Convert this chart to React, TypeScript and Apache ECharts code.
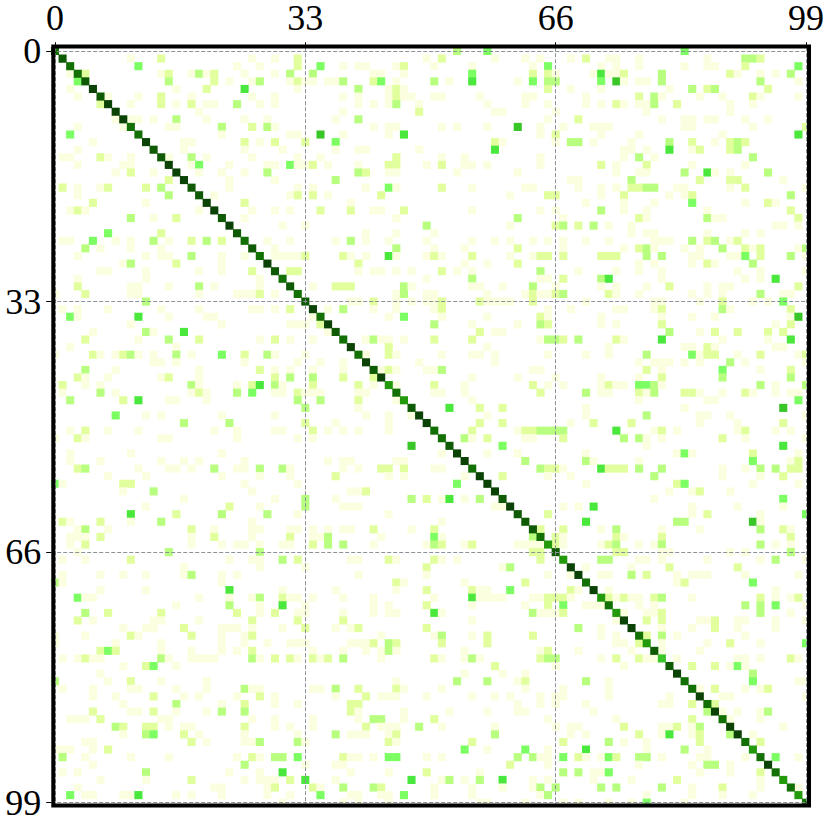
import React, { useEffect, useRef } from "react";
import * as echarts from "echarts";

const axisIndex = Array.from({ length: 100 }, (_, i) => String(i));
const labelledTicks = [0, 33, 66, 99];

const diagonal = [8,9,8,8,9,10,9,10,10,10,8,8,10,9,9,10,10,10,9,9,10,10,9,10,9,8,9,8,10,9,8,9,8,9,10,8,10,9,8,10,8,10,9,10,7,8,7,9,10,10,8,8,9,10,10,8,10,10,10,9,10,9,9,9,8,7,9,7,10,10,8,10,7,8,7,10,10,8,7,9,6,9,10,8,8,10,8,10,8,10,10,8,7,8,10,8,7,8,7,8];

// [row, [col, level, col, level, ...]]
type Row = [number, number[]];
const rowsTop: Row[] = [
  [0, [53,3,57,4,83,4]],
  [1, [10,1,14,2,26,1,29,1,32,2,49,1,51,2,58,1,62,1,64,1,68,1,70,2,73,1,74,1,77,1,86,1,91,3,92,3,93,2]],
  [2, [11,4,24,1,27,1,32,2,35,4,38,1,40,1,41,1,45,1,46,2,50,1,55,1,63,1,65,4,72,1,74,1,77,1,83,1,86,1,87,1,91,2,98,4]],
  [3, [2,1,4,2,14,1,15,2,18,1,19,3,20,1,21,2,25,1,29,1,31,3,34,3,42,1,43,1,46,1,55,4,63,2,65,2,66,1,71,1,72,5,73,1,74,1,75,2,80,3,89,2,90,1,93,1,95,1,97,3]],
  [4, [3,4,15,3,21,2,23,1,26,1,27,3,31,1,32,2,33,1,34,1,36,1,37,1,38,3,42,2,43,4,45,1,50,3,52,1,55,5,61,1,63,4,65,3,66,3,72,4,74,6,75,1,77,1,78,1,80,3,93,3,98,1]],
  [5, [2,1,16,1,20,2,25,5,32,1,40,3,44,1,45,2,46,1,65,2,68,1,72,1,81,1,84,3,86,2,87,3,94,2]],
  [6, [3,1,7,1,11,1,14,2,18,1,26,1,29,1,38,1,40,1,44,1,45,2,46,1,47,1,50,1,51,1,56,1,62,1,63,1,70,1,77,2,79,3,80,1,85,1,88,1,92,2,93,1,98,1]],
  [7, [6,2,10,1,14,2,16,1,18,2,20,1,21,1,24,3,27,1,29,1,40,1,42,1,44,1,45,3,48,1,57,1,62,1,65,1,70,1,72,1,74,2,75,1,77,1,78,1,79,3,82,2,89,1,92,1]],
  [8, [19,1,38,1,48,2,58,1,59,1,66,1,78,1,89,1]],
  [9, [8,1,10,1,11,1,13,1,16,3,20,1,25,1,28,1,37,1,40,3,65,1,69,2,80,1,83,1,84,1,86,1,87,1,91,1,94,1]],
  [10, [3,1,9,1,15,1,16,1,22,3,26,2,28,3,29,1,42,1,44,1,45,1,51,1,53,1,57,1,61,6,64,1,67,1,71,1,72,1,73,1,83,1,84,1,92,1,99,2]],
  [11, [2,4,22,1,31,1,32,1,35,6,38,1,44,1,46,5,64,1,66,2,72,1,77,1,88,1,98,5]],
  [12, [5,1,17,1,18,1,25,2,27,1,29,2,33,2,37,4,58,2,59,1,66,1,68,3,69,3,71,1,76,1,81,3,84,2,87,1,89,2,90,3,91,2]],
  [13, [3,1,17,1,25,1,30,1,37,1,40,1,41,1,48,1,58,5,75,1,76,1,78,1,81,5,84,1,85,2,89,2,90,3]],
  [14, [1,1,2,1,6,2,7,1,10,1,15,1,18,3,20,1,26,1,32,1,35,1,45,2,51,1,54,1,64,1,75,1,77,3,79,1,92,3]],
  [15, [3,1,9,1,10,1,18,1,19,4,23,1,28,1,29,1,31,4,32,1,33,1,34,2,36,1,40,1,44,2,45,2,49,1,51,2,54,1,55,1,57,1,64,1,72,2,74,1,78,2,84,1,91,1]],
  [16, [8,1,10,2,13,1,19,1,22,1,25,1,28,3,40,3,41,2,44,1,45,1,53,1,61,1,74,1,77,1,78,1,83,3,86,5,87,1,89,1,94,3]],
  [17, [15,2,23,1,29,1,37,3,68,1,69,1,76,3,85,2,89,2,90,2,96,1]],
  [18, [1,2,3,1,6,1,7,2,12,2,14,3,23,1,32,1,34,1,41,1,44,4,45,1,51,2,55,1,62,1,63,1,69,1,72,1,74,1,76,2,77,2,78,3,79,3,82,1,83,1,89,1,91,2,99,1]],
  [19, [3,1,15,3,21,1,31,1,32,2,34,2,36,1,43,2,60,1,65,2,66,2,72,1,75,2,81,1,83,1,84,2,97,3]],
  [20, [5,2,12,1,25,2,39,1,70,1,75,1,79,1,84,4,91,1,94,2,95,1]],
  [21, [2,1,3,2,4,1,19,1,26,1,29,1,31,1,35,2,39,2,42,1,43,1,46,2,55,1,64,1,66,1,72,3,75,1,78,1,86,1,97,2]],
  [22, [10,3,13,1,16,2,25,1,45,1,61,3,67,1,77,2,78,1,86,3,87,1,88,1,98,2]],
  [23, [30,1,33,1,49,3,60,1,66,2,67,3,69,2,71,3,73,1,76,1,95,1,96,1,98,1]],
  [24, [7,4,14,2,41,1,45,1,50,1,76,1,78,1,79,1,86,1,91,1,93,1]],
  [25, [1,1,2,1,5,4,8,1,10,1,13,3,15,1,18,2,20,3,22,2,28,1,31,1,37,1,39,3,41,1,44,1,49,1,55,1,58,1,60,1,63,1,65,1,67,1,70,1,73,1,79,1,80,1,81,1,84,3,86,2,87,3,89,1,90,2]],
  [26, [4,3,6,1,10,1,14,1,29,1,45,3,50,1,54,1,61,2,67,1,75,1,77,2,78,3,79,1,83,1,85,1,88,3,91,2,92,1,93,2,98,1,99,3]],
  [27, [3,1,12,1,14,1,15,1,18,3,22,1,25,1,29,1,30,1,31,1,32,1,33,2,38,2,39,1,41,1,44,5,45,1,49,1,50,2,51,1,55,2,60,1,63,1,64,2,65,2,67,2,72,2,73,2,74,2,78,3,80,3,84,1,85,1,89,1,90,1,91,4,93,2,97,3,99,1]],
  [28, [9,1,10,3,16,2,22,1,40,2,54,1,57,1,61,2,77,1,79,1,84,1,86,2,87,1,92,3]],
  [29, [6,1,7,1,12,1,19,1,22,1,26,2,31,2,32,2,40,1,42,1,43,1,45,1,47,1,51,2,53,1,55,1,64,3,69,1,74,1,77,1,80,1,90,1,93,1,99,1]],
  [30, [3,1,12,1,27,1,49,1,55,3,64,1,65,1,67,2,72,3,73,5,80,1,91,1,93,1,95,5]],
  [31, [3,2,10,1,11,1,15,1,19,3,21,1,27,1,34,1,37,2,38,2,39,2,46,3,47,1,55,1,56,1,59,1,63,3,66,1,72,1,74,1,78,1,81,2,86,1,88,1,89,1,98,2]],
  [32, [0,1,4,2,10,1,11,1,19,1,24,1,25,1,26,1,27,2,29,1,45,1,46,3,49,1,50,1,57,1,62,1,63,2,64,1,65,1,66,2,67,3,73,2,74,1,77,1,84,1,86,1,88,1,93,3,96,1,97,1]],
];

const rowsMiddle: Row[] = [
  [33, [12,3,39,1,40,1,42,2,45,1,47,1,49,1,50,1,51,2,56,2,57,1,58,1,59,1,60,1,63,2,70,1,79,1,80,1,85,1,88,2,92,1,94,1,96,4]],
  [34, [1,1,3,1,7,1,14,1,19,1,26,1,27,1,29,1,31,2,36,1,38,3,42,1,45,1,50,1,51,2,65,1,68,1,74,1,75,1,79,1,80,2,88,3,89,1,97,2]],
  [35, [2,4,3,1,11,5,15,1,20,1,21,1,34,1,44,1,46,4,51,1,57,1,64,2,65,1,72,1,80,1,84,1,87,1,97,1,98,6]],
  [36, [10,1,22,1,31,1,32,1,33,1,35,2,50,3,55,1,61,1,64,3,65,2,72,1,74,1,80,2,95,1,97,2]],
  [37, [5,1,12,3,13,1,17,5,36,1,56,2,58,1,59,1,81,3,85,1,87,2,90,2,94,2,96,2]],
  [38, [4,2,11,1,15,3,19,2,27,1,29,2,31,1,34,1,41,1,42,3,43,1,44,1,46,1,50,2,55,2,64,1,65,3,66,3,67,2,69,3,74,2,75,1,80,5,88,1,94,1,97,5]],
  [39, [2,1,16,1,44,2,57,1,73,1,83,1,84,1,86,2,87,1,95,1,96,1]],
  [40, [0,1,5,2,6,1,8,1,9,2,10,3,11,1,13,1,16,3,18,1,22,4,25,2,28,3,29,1,33,1,41,1,44,2,45,1,51,1,55,1,56,1,58,1,65,1,70,1,73,1,78,3,84,4,85,1,86,2,87,2,90,1,93,2,98,1,99,2]],
  [41, [13,1,14,1,16,1,25,1,32,1,35,1,38,1,48,1,58,1,77,1,79,1,80,1,81,1,83,1,85,1,89,3,91,1,99,1]],
  [42, [4,3,8,1,19,1,27,2,29,1,31,1,34,1,38,1,43,1,44,2,45,1,49,1,50,1,51,3,63,1,64,1,78,2,80,1,88,4,93,1,97,2]],
  [43, [3,2,4,1,7,1,14,1,15,2,19,1,29,2,31,3,34,3,38,2,42,2,55,1,61,1,66,1,72,1,77,1,80,2,88,3,97,3]],
  [44, [1,2,4,1,6,1,18,3,19,1,24,1,26,2,27,5,29,3,30,1,34,2,40,2,42,1,45,1,50,2,54,1,63,2,65,1,67,1,72,1,73,2,74,1,75,1,77,4,78,4,79,3,80,1,93,3,95,1,99,3]],
  [45, [1,1,6,3,8,1,18,1,19,2,20,1,24,3,26,4,29,1,30,1,32,2,33,1,34,1,35,1,40,1,41,1,50,1,51,1,54,1,64,2,70,3,72,1,73,1,77,2,78,1,79,3,83,2,84,2,85,1,88,1,91,2,92,1,95,1,97,1,98,1]],
  [46, [2,3,9,2,11,5,15,1,16,1,20,1,32,3,35,3,40,2,45,1,55,1,77,1,86,1,87,1,98,4]],
  [47, [33,3,40,1,52,5,56,2,59,2,70,1,83,1,96,6]],
  [48, [8,4,12,1,14,1,22,1,29,1,41,1,44,1,47,1,57,1,70,1,78,3,85,1,86,1,89,1,99,1]],
  [49, [17,3,23,3,33,2,37,1,44,1,56,2,59,2,68,1,71,2,76,2,85,1,90,1,96,2]],
  [50, [2,1,4,2,7,1,11,1,21,1,24,1,29,1,30,1,34,2,36,1,38,1,40,1,44,1,55,2,61,1,62,2,63,2,64,3,65,3,66,3,67,3,74,5,79,1,80,2,82,1,90,1,91,2,95,1,97,1]],
  [51, [0,1,3,2,4,1,14,1,15,1,24,1,32,1,34,1,54,3,55,1,57,2,62,1,63,1,67,2,75,3,77,3,78,1,80,1,88,2,91,1,99,1]],
  [52, [47,6,59,4,78,1,96,5]],
  [53, [2,1,10,1,22,1,51,1,57,1,61,1,70,1,82,1,83,4,84,1,92,2,98,1]],
  [54, [2,1,6,1,14,1,17,1,19,1,25,1,36,1,38,1,39,1,45,1,46,1,62,3,70,3,71,1,77,1,92,4,97,1,98,2]],
  [55, [3,2,4,3,11,1,15,1,16,1,18,1,21,3,24,1,25,1,27,3,30,3,31,1,38,1,40,1,43,2,44,2,46,2,50,1,51,1,64,3,65,2,66,2,67,1,72,5,73,2,74,2,75,2,77,3,80,3,88,1,91,1,93,3,95,3,97,2,98,2]],
  [56, [7,1,12,1,22,1,27,1,31,1,37,2,44,1,46,1,54,1,59,2,65,1,68,1,79,3,88,1,93,1,96,2]],
  [57, [0,4,1,1,9,2,10,2,25,1,32,1,53,4,70,1,82,2,83,4,92,1,98,1]],
  [58, [9,1,13,3,26,1,39,1,40,1,41,2,81,1,84,1,85,2,89,1]],
  [59, [17,1,29,1,33,3,37,1,47,3,49,2,51,1,52,5,54,1,56,3,79,1,96,4]],
  [60, [12,1,23,2,27,1,33,3,38,1,39,1,40,1,58,1,59,1,67,1,69,1,71,5,84,1,90,1,96,1]],
  [61, [10,5,16,2,22,3,28,3,32,1,44,1,65,2,84,1,86,2,93,1,99,4]],
  [62, [1,2,2,1,6,2,10,1,14,3,26,1,51,1,70,5,82,3,83,3,92,6,93,1]],
  [63, [3,1,4,3,7,1,18,2,21,1,26,1,27,1,31,1,32,1,34,1,36,1,38,1,39,1,42,2,47,1,50,2,64,2,67,2,72,1,74,3,80,1,85,1,93,3,96,2,97,1]],
  [64, [2,1,3,1,4,1,6,2,18,1,21,2,26,1,31,2,34,1,35,1,36,3,43,1,50,4,51,1,63,3,66,2,67,1,74,2,75,1,80,2,97,2]],
  [65, [2,1,4,2,18,1,22,1,24,1,25,1,27,1,30,1,31,1,34,2,36,3,38,3,42,1,49,1,50,3,51,2,54,1,55,2,61,1,62,1,63,1,64,1,66,2,67,1,72,1,73,2,74,3,77,1,79,1,80,3,93,3,95,1,97,1]],
  [66, [3,1,15,3,27,3,63,2,64,2,74,2,75,2,80,1,81,1,89,1,91,1,97,3]],
];

const rowsBottom: Row[] = [
  [67, [1,1,4,1,10,2,23,1,26,1,27,1,30,3,32,2,39,1,40,1,44,2,45,1,50,2,51,1,53,1,64,2,72,3,73,3,77,1,78,1,80,1,86,1,93,1,95,3,99,1]],
  [68, [17,1,27,1,33,1,49,2,59,1,60,3,70,1,76,1,81,2,90,2]],
  [69, [1,1,6,1,9,1,12,1,17,1,18,3,22,1,24,1,40,1,49,1,65,1,68,1,72,1,73,1,76,3,78,2,82,1,84,1,85,1,86,1,91,1,98,1]],
  [70, [0,3,1,1,22,1,45,2,46,1,54,1,62,2,82,1,83,2,92,4]],
  [71, [6,1,12,1,23,5,30,1,37,1,45,1,49,2,55,2,56,1,57,1,60,4,68,2,69,1,73,1,95,1]],
  [72, [3,4,4,1,5,1,19,1,23,1,26,1,27,3,30,2,31,1,32,1,34,1,38,1,42,1,50,1,55,5,56,1,57,1,58,1,59,1,63,1,64,1,65,2,66,2,67,2,68,1,73,2,74,1,75,2,76,1,77,1,79,2,80,3,84,1,93,2,95,1,97,1,98,2]],
  [73, [16,1,23,3,27,1,30,5,33,1,42,1,44,1,49,2,55,1,62,1,65,2,67,4,70,1,71,1,72,1,77,1,79,1,91,3,93,3,95,4,99,1]],
  [74, [4,3,7,2,14,2,24,2,27,1,29,2,32,1,33,1,38,1,42,1,44,1,45,1,50,5,51,1,63,3,64,1,65,1,66,1,67,2,75,1,78,1,79,1,80,2,93,3,97,1]],
  [75, [3,2,5,1,13,1,14,1,19,1,26,2,32,2,38,2,55,1,74,1,78,2,80,2,85,1,86,1,87,2,90,1,91,1,95,1,99,1]],
  [76, [9,1,12,1,13,1,17,2,22,1,23,1,24,1,26,1,30,1,33,2,37,1,39,1,40,2,49,2,69,3,72,1,80,1,84,1,87,2,90,1,95,1]],
  [77, [0,1,4,1,10,2,11,1,18,2,22,1,25,1,26,2,43,1,50,1,51,3,55,1,57,2,63,2,72,1,74,1,78,2,80,3,82,1,91,1]],
  [78, [0,1,8,1,14,1,22,1,25,1,28,1,31,1,32,1,33,1,39,1,40,1,41,1,42,2,44,3,45,2,51,2,57,2,74,1,75,1,77,2,80,1,86,1,89,2,93,1,99,4]],
  [79, [6,2,7,4,8,2,14,1,18,1,22,1,24,1,26,2,34,1,38,1,41,1,43,1,44,3,45,1,54,1,64,1,65,2,69,1,76,1,80,1,85,1]],
  [80, [1,1,3,1,4,2,5,1,6,1,14,3,15,1,18,1,19,1,20,1,21,1,26,3,27,1,29,2,31,2,32,1,34,2,35,1,36,2,38,3,43,1,50,2,51,1,54,1,55,3,56,1,64,2,65,3,66,3,72,1,74,2,77,2,78,1,79,1,82,1,90,1,91,1,93,1,97,2,98,1]],
  [81, [9,1,12,2,13,4,16,1,58,2,66,1,75,1,84,2,87,2,89,1,90,4,91,1]],
  [82, [6,1,54,1,59,1,62,1,92,3]],
  [83, [0,3,7,1,10,2,14,1,20,1,45,1,53,3,57,3,61,1,62,2,70,3,73,1,92,4,98,1,99,1]],
  [84, [1,1,5,1,10,1,11,1,16,1,20,1,25,3,26,1,27,1,34,1,35,1,37,3,40,2,45,2,46,1,51,1,62,1,67,1,73,1,85,1,87,2,91,1,93,1,94,2]],
  [85, [5,1,8,1,13,2,17,1,19,1,24,1,27,2,29,1,37,1,41,2,43,1,44,1,45,1,49,1,55,1,58,1,60,1,64,1,66,1,67,1,73,1,81,1,88,1,89,1,99,1]],
  [86, [9,1,16,3,22,1,25,2,29,1,32,1,39,2,40,2,61,1,64,1,66,1,70,1,80,1,81,1,84,2,87,2]],
  [87, [5,2,10,1,11,1,13,2,16,1,20,1,22,3,25,3,39,2,40,1,46,1,52,1,57,1,61,1,62,1,71,1,86,3,88,1,90,1,93,1,94,3]],
  [88, [2,1,3,1,4,1,6,2,14,1,15,1,26,1,29,1,34,1,40,1,42,3,43,3,46,1,50,2,65,1,74,1,84,2,89,1,93,1]],
  [89, [8,3,9,2,12,2,13,2,15,1,17,1,18,1,25,2,29,1,31,1,34,1,41,2,43,1,44,1,45,1,48,3,51,1,58,1,66,1,68,1,69,1,75,2,80,1,81,1,82,2,84,1,85,3,96,1]],
  [90, [9,1,12,3,13,4,17,2,19,1,25,1,32,1,37,3,39,1,40,1,41,1,44,1,45,2,58,3,68,1,70,1,77,2,80,1,81,5,84,1,85,2,89,3,92,1]],
  [91, [4,1,5,1,18,2,20,1,25,1,26,1,27,3,32,3,33,1,44,2,45,1,55,2,67,2,73,3,75,1,78,1,85,2,93,2]],
  [92, [0,1,1,1,2,1,5,1,7,2,54,4,57,1,62,4,65,1,70,5,78,1,83,3,86,1]],
  [93, [1,3,4,1,10,1,15,1,24,1,26,2,27,1,29,3,30,3,32,4,38,2,39,1,40,1,42,1,44,4,45,4,49,1,51,1,61,3,63,3,64,1,65,1,67,4,69,2,70,1,72,1,73,4,74,2,77,3,78,3,80,1,85,1,86,1,91,1,95,4,98,1]],
  [94, [5,1,25,3,33,1,37,1,38,1,60,2,65,1,77,1,84,1,86,3,87,3,89,1]],
  [95, [1,1,3,1,12,3,23,1,27,1,30,5,39,1,44,1,49,2,56,1,67,3,69,3,71,1,72,1,73,4,85,1,89,1,93,2]],
  [96, [6,1,12,1,18,2,25,1,27,1,28,1,29,1,31,2,33,5,37,1,47,5,51,1,52,3,54,1,56,3,59,5,63,1,65,1,71,1,76,1,82,2,93,1]],
  [97, [3,1,21,1,22,1,28,1,29,2,34,2,35,1,38,3,42,3,43,2,50,1,55,1,59,1,63,1,64,3,66,3,72,3,74,3,80,3,84,1,88,2,93,1,98,1]],
  [98, [2,4,4,1,5,1,9,1,10,1,11,5,16,1,18,1,22,1,28,1,31,1,35,4,39,1,40,1,43,1,44,1,46,4,50,1,55,1,64,1,65,3,78,1,84,1,88,1,92,1]],
  [99, [30,1,38,1,40,1,44,1,56,1,57,1,62,1,67,1,69,1,73,1,76,1,78,4,83,1]],
];

const levelColors = ["#fbffe0","#e2ff9e","#b8ff80","#7cff62","#4ae83c","#38c628","#239a0c","#137005","#0f5a05","#0b4205"];

function buildCells(): number[][] {
  const cells = new Map<string, number[]>();
  [...rowsTop, ...rowsMiddle, ...rowsBottom].forEach(([row, pairs]) => {
    for (let k = 0; k < pairs.length; k += 2) {
      cells.set(row + ":" + pairs[k], [pairs[k], row, pairs[k + 1]]);
    }
  });
  diagonal.forEach((level, i) => cells.set(i + ":" + i, [i, i, level]));
  return Array.from(cells.values());
}

const showTick = (index: number) => labelledTicks.includes(index);
const font = { fontFamily: "Liberation Serif", fontSize: 36, color: "#000" };
const dashed = { show: true, interval: showTick, alignWithLabel: true, lineStyle: { color: "#8a9296", width: 1, type: [4, 2] as number[] } };
const ticks = { show: true, interval: showTick, alignWithLabel: true, length: 5, lineStyle: { color: "#000", width: 1 } };

export default function App() {
  const ref = useRef<HTMLDivElement>(null);
  useEffect(() => {
    document.body.style.margin = "0";
    const chart = echarts.init(ref.current!, undefined, { renderer: "svg" });
    chart.setOption({
      animation: false,
      backgroundColor: "#fff",
      grid: { left: 51.2, top: 47.2, width: 758.6, height: 759.3, containLabel: false, outerBoundsMode: "none" },
      xAxis: {
        type: "category", position: "top", data: axisIndex, z: 5,
        axisLine: { show: false },
        axisTick: ticks,
        splitLine: dashed,
        axisLabel: { ...font, interval: showTick, margin: 11, hideOverlap: false, showMinLabel: true, showMaxLabel: true },
      },
      yAxis: {
        type: "category", inverse: true, data: axisIndex, z: 5,
        axisLine: { show: false },
        axisTick: ticks,
        splitLine: dashed,
        axisLabel: { ...font, interval: showTick, margin: 10, hideOverlap: false, showMinLabel: true, showMaxLabel: true },
      },
      visualMap: {
        show: false, type: "piecewise", dimension: 2, seriesIndex: 0,
        pieces: levelColors.map((color, i) => ({ value: i + 1, color })),
      },
      series: [{ type: "heatmap", data: buildCells(), progressive: 0, itemStyle: { borderWidth: 0 }, emphasis: { disabled: true } }],
      graphic: [{
        type: "rect", silent: true, z: 100, x: 53.3, y: 46.5,
        shape: { x: 0, y: 0, width: 755.7, height: 759 },
        style: { fill: "none", stroke: "#000", lineWidth: 4 },
      }],
    });
    return () => chart.dispose();
  }, []);
  return <div ref={ref} style={{ width: 830, height: 824 }} />;
}
